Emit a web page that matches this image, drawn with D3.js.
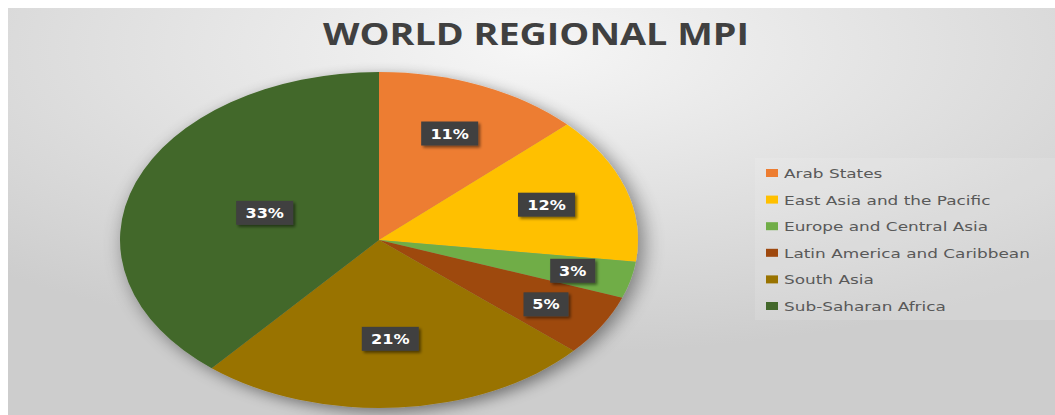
<!DOCTYPE html>
<html lang="en">
<head>
<meta charset="utf-8" />
<title>World Regional MPI</title>
<script src="https://cdn.jsdelivr.net/npm/d3@7"></script>
<style>
  body { margin: 0; background: #fff; }
  svg { display: block; }
  .title { font-family: "Open Sans", "Liberation Sans", sans-serif; font-weight: 700; fill: #404040; }
  .legend text { font-family: "DejaVu Sans", Verdana, sans-serif; font-size: 13px; fill: #595959; }
  .lbl text { font-family: "DejaVu Sans", Verdana, sans-serif; font-weight: 700; font-size: 14px; fill: #fff; }
</style>
</head>
<body>
<div id="chart"></div>
<script>
// data
var regions = ["Arab States", "East Asia and the Pacific", "Europe and Central Asia",
               "Latin America and Caribbean", "South Asia", "Sub-Saharan Africa"];
var shares = [11, 12, 3, 5, 21, 33];
var colors = ["#ED7D31", "#FFC000", "#70AD47", "#9E480E", "#997300", "#43682B"];

var width = 1055, height = 415;
var cx = 379, cy = 240, rx = 259, ry = 168;

var svg = d3.select("#chart").append("svg")
    .attr("width", width)
    .attr("height", height);

var defs = svg.append("defs");
var grad = defs.append("radialGradient")
    .attr("id", "bg")
    .attr("cx", "50%").attr("cy", "10%").attr("r", "75%");
grad.append("stop").attr("offset", "0%").attr("stop-color", "#f6f6f6");
grad.append("stop").attr("offset", "100%").attr("stop-color", "#cdcdcd");

var shadow = defs.append("filter").attr("id", "pieShadow")
    .attr("x", "-20%").attr("y", "-20%").attr("width", "140%").attr("height", "140%");
shadow.append("feGaussianBlur").attr("in", "SourceAlpha").attr("stdDeviation", 7);
shadow.append("feOffset").attr("dx", 3).attr("dy", 4).attr("result", "b");
shadow.append("feComponentTransfer").append("feFuncA").attr("type", "linear").attr("slope", 0.45);
var m = shadow.append("feMerge");
m.append("feMergeNode");
m.append("feMergeNode").attr("in", "SourceGraphic");

var boxShadow = defs.append("filter").attr("id", "boxShadow")
    .attr("x", "-30%").attr("y", "-30%").attr("width", "160%").attr("height", "160%");
boxShadow.append("feGaussianBlur").attr("in", "SourceAlpha").attr("stdDeviation", 1.5);
boxShadow.append("feOffset").attr("dx", 2).attr("dy", 2);
boxShadow.append("feComponentTransfer").append("feFuncA").attr("type", "linear").attr("slope", 0.5);
var m2 = boxShadow.append("feMerge");
m2.append("feMergeNode");
m2.append("feMergeNode").attr("in", "SourceGraphic");

// chart area
svg.append("rect")
    .attr("x", 8).attr("y", 8)
    .attr("width", width - 8).attr("height", height - 8)
    .attr("fill", "url(#bg)");

// title
svg.append("text")
    .attr("class", "title")
    .attr("x", 536).attr("y", 45)
    .attr("text-anchor", "middle")
    .attr("font-size", 30)
    .attr("textLength", 426)
    .attr("lengthAdjust", "spacingAndGlyphs")
    .text("WORLD REGIONAL MPI");

// pie (drawn as a circle, stretched to the ellipse of the picture)
var pie = d3.pie().sort(null).value(function(d) { return d; });
var arcs = pie(shares);
var arc = d3.arc().innerRadius(0).outerRadius(ry);

var pieG = svg.append("g")
    .attr("transform", "translate(" + cx + "," + cy + ") scale(" + (rx / ry) + ",1)")
    .attr("filter", "url(#pieShadow)");

pieG.selectAll("path")
    .data(arcs)
  .enter().append("path")
    .attr("d", arc)
    .attr("fill", function(d, i) { return colors[i]; });

// data labels: smaller slices sit further out
var lblG = svg.append("g").attr("class", "lbl");
arcs.forEach(function(d, i) {
  var a = (d.startAngle + d.endAngle) / 2;
  var f = 0.8 - 0.01 * d.value;
  var x = cx + rx * f * Math.sin(a);
  var y = cy - ry * f * Math.cos(a);
  var txt = d.value + "%";
  var w = txt.length === 2 ? 45 : 57;
  var g = lblG.append("g").attr("transform", "translate(" + x + "," + y + ")");
  g.append("rect")
      .attr("x", -w / 2).attr("y", -12)
      .attr("width", w).attr("height", 24)
      .attr("fill", "#404040")
      .attr("filter", "url(#boxShadow)");
  g.append("text")
      .attr("text-anchor", "middle")
      .attr("dy", 5)
      .attr("transform", "scale(1.15,1)")
      .text(txt);
});

// legend
var legend = svg.append("g").attr("class", "legend");
legend.append("rect")
    .attr("x", 755).attr("y", 158)
    .attr("width", 300).attr("height", 162)
    .attr("fill", "#ffffff").attr("opacity", 0.12);

var rowY = d3.scalePoint().domain(regions).range([173, 306]);
var items = legend.selectAll("g.item")
    .data(regions)
  .enter().append("g")
    .attr("class", "item")
    .attr("transform", function(d) { return "translate(766," + rowY(d) + ")"; });
items.append("rect")
    .attr("x", 0).attr("y", -4)
    .attr("width", 12).attr("height", 8)
    .attr("fill", function(d, i) { return colors[i]; });
// the legend lettering in the picture is stretched sideways
items.append("text")
    .attr("transform", "translate(18,5) scale(1.3,1)")
    .text(function(d) { return d; });
</script>
</body>
</html>
